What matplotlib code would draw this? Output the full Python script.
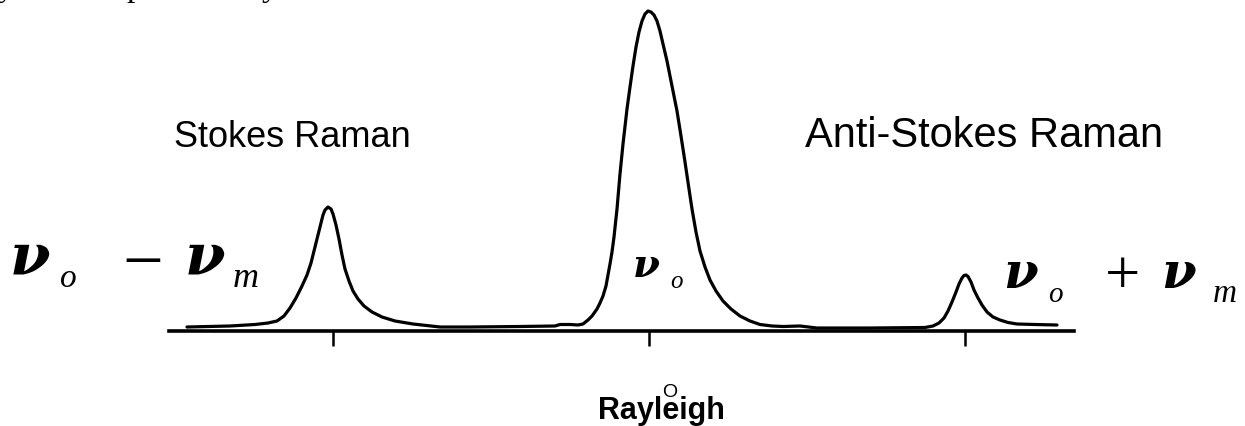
import matplotlib
matplotlib.use("Agg")
import matplotlib.pyplot as plt

# Espectro de dispersión: desplazamiento (unidades arbitrarias, 0 = línea Rayleigh)
desplazamiento = [-462, -419, -394, -381,
                  -372, -365, -359, -353, -347, -342, -338, -335, -332, -329, -326, -324,
                  -321, -318, -316, -313, -310, -307, -304, -300, -296, -291, -285, -277,
                  -267, -254, -236, -209,
                  -179, -129, -94, -89, -79, -71, -66, -61, -57, -52, -49, -46, -43, -41,
                  -39, -37, -35, -32, -29, -26, -22, -19, -16, -13, -10, -7, -4, -1,
                  2, 5, 8, 11, 14, 18, 23, 28, 32, 36, 40, 43, 47, 51, 56, 61, 67, 74,
                  82, 91, 101, 111, 123, 134, 151, 168, 221, 276,
                  284, 290, 295, 299, 303, 307, 310, 313, 315, 317, 319, 322, 325, 329,
                  333, 338, 344, 351, 359, 368, 386, 408]
intensidad = [4, 5, 6.5, 8,
              10, 15, 23, 33, 45, 56, 68, 80, 92, 104, 116, 121,
              124, 122, 117, 106, 92, 76, 62, 50, 40, 32, 25, 19,
              14, 10, 7, 4,
              4, 4.5, 5, 6.5, 6.5, 6, 7, 11, 15, 22, 28, 35, 45, 56,
              67, 79, 94, 122, 157, 187, 222, 244, 265, 284, 299, 310, 317, 320,
              319, 316, 310, 300, 287, 270, 245, 220, 195, 169, 142, 122, 99, 80, 64, 51, 40, 30,
              22, 15, 10, 6.5, 5, 4.5, 5, 3, 3, 3.5,
              5, 8, 13, 20, 29, 39, 47, 53, 55.5, 56, 54.5, 49, 41, 33,
              26, 19, 14, 11, 8.5, 7, 6.5, 6]

posiciones_ticks = [-316, 0, 316]

fig = plt.figure(figsize=(12.45, 4.27), dpi=100)

# capa de texto en coordenadas de pixel
capa = fig.add_axes([0, 0, 1, 1])
capa.set_xlim(0, 1245)
capa.set_ylim(427, 0)
capa.axis("off")

ax = fig.add_axes([169 / 1245, (427 - 332) / 427, (1074 - 169) / 1245, 332 / 427])
ax.plot(desplazamiento, intensidad, color="black", lw=2.3,
        solid_capstyle="round", solid_joinstyle="round")
ax.set_xlim(-480, 425)
ax.set_ylim(0, 332)
for lado in ["top", "right", "left"]:
    ax.spines[lado].set_visible(False)
ax.spines["bottom"].set_linewidth(2.6)
ax.set_yticks([])
ax.set_xticks(posiciones_ticks)
ax.set_xticklabels([])
ax.tick_params(axis="x", direction="out", length=10.5, width=1.8, color="black")
ax.patch.set_alpha(0)

sans = "Liberation Sans"
serif = "Liberation Serif"
griega = "DejaVu Serif"

capa.text(292, 147, "Stokes Raman", fontsize=26, family=sans, ha="center", va="baseline")
capa.text(984, 147, "Anti-Stokes Raman", fontsize=30, family=sans, ha="center", va="baseline")

# ν_o − ν_m
capa.text(10, 275, "ν", fontsize=42, family=griega, weight="bold", style="italic", va="baseline")
capa.text(60, 287, "o", fontsize=24, family=serif, style="italic", va="baseline")
capa.text(143, 284, "−", fontsize=52, family=serif, ha="center", va="baseline")
capa.text(185, 275, "ν", fontsize=42, family=griega, weight="bold", style="italic", va="baseline")
capa.text(233, 287, "m", fontsize=26, family=serif, style="italic", va="baseline")

# ν_o central
capa.text(633, 277, "ν", fontsize=28, family=griega, weight="bold", style="italic", va="baseline")
capa.text(670, 288, "o", fontsize=18, family=serif, style="italic", va="baseline")

# ν_o + ν_m
capa.text(1003, 288, "ν", fontsize=36, family=griega, weight="bold", style="italic", va="baseline")
capa.text(1048, 302, "o", fontsize=21, family=serif, style="italic", va="baseline")
capa.text(1123, 294, "+", fontsize=45, family=serif, ha="center", va="baseline")
capa.text(1161, 288, "ν", fontsize=36, family=griega, weight="bold", style="italic", va="baseline")
capa.text(1213, 302, "m", fontsize=24, family=serif, style="italic", va="baseline")

# etiqueta Rayleigh
capa.text(661, 419, "Rayleigh", fontsize=22, family=sans, weight="bold", ha="center", va="baseline")
capa.text(670, 397, "O", fontsize=14, family=sans, ha="center", va="baseline")

# restos del texto superior cortado
capa.text(-2, -4, "y", fontsize=24, family=serif, va="baseline")
capa.text(126, -4, "p", fontsize=24, family=serif, va="baseline")
capa.text(262, -4, "y", fontsize=24, family=serif, va="baseline")

fig.savefig("out.png", dpi=100)
